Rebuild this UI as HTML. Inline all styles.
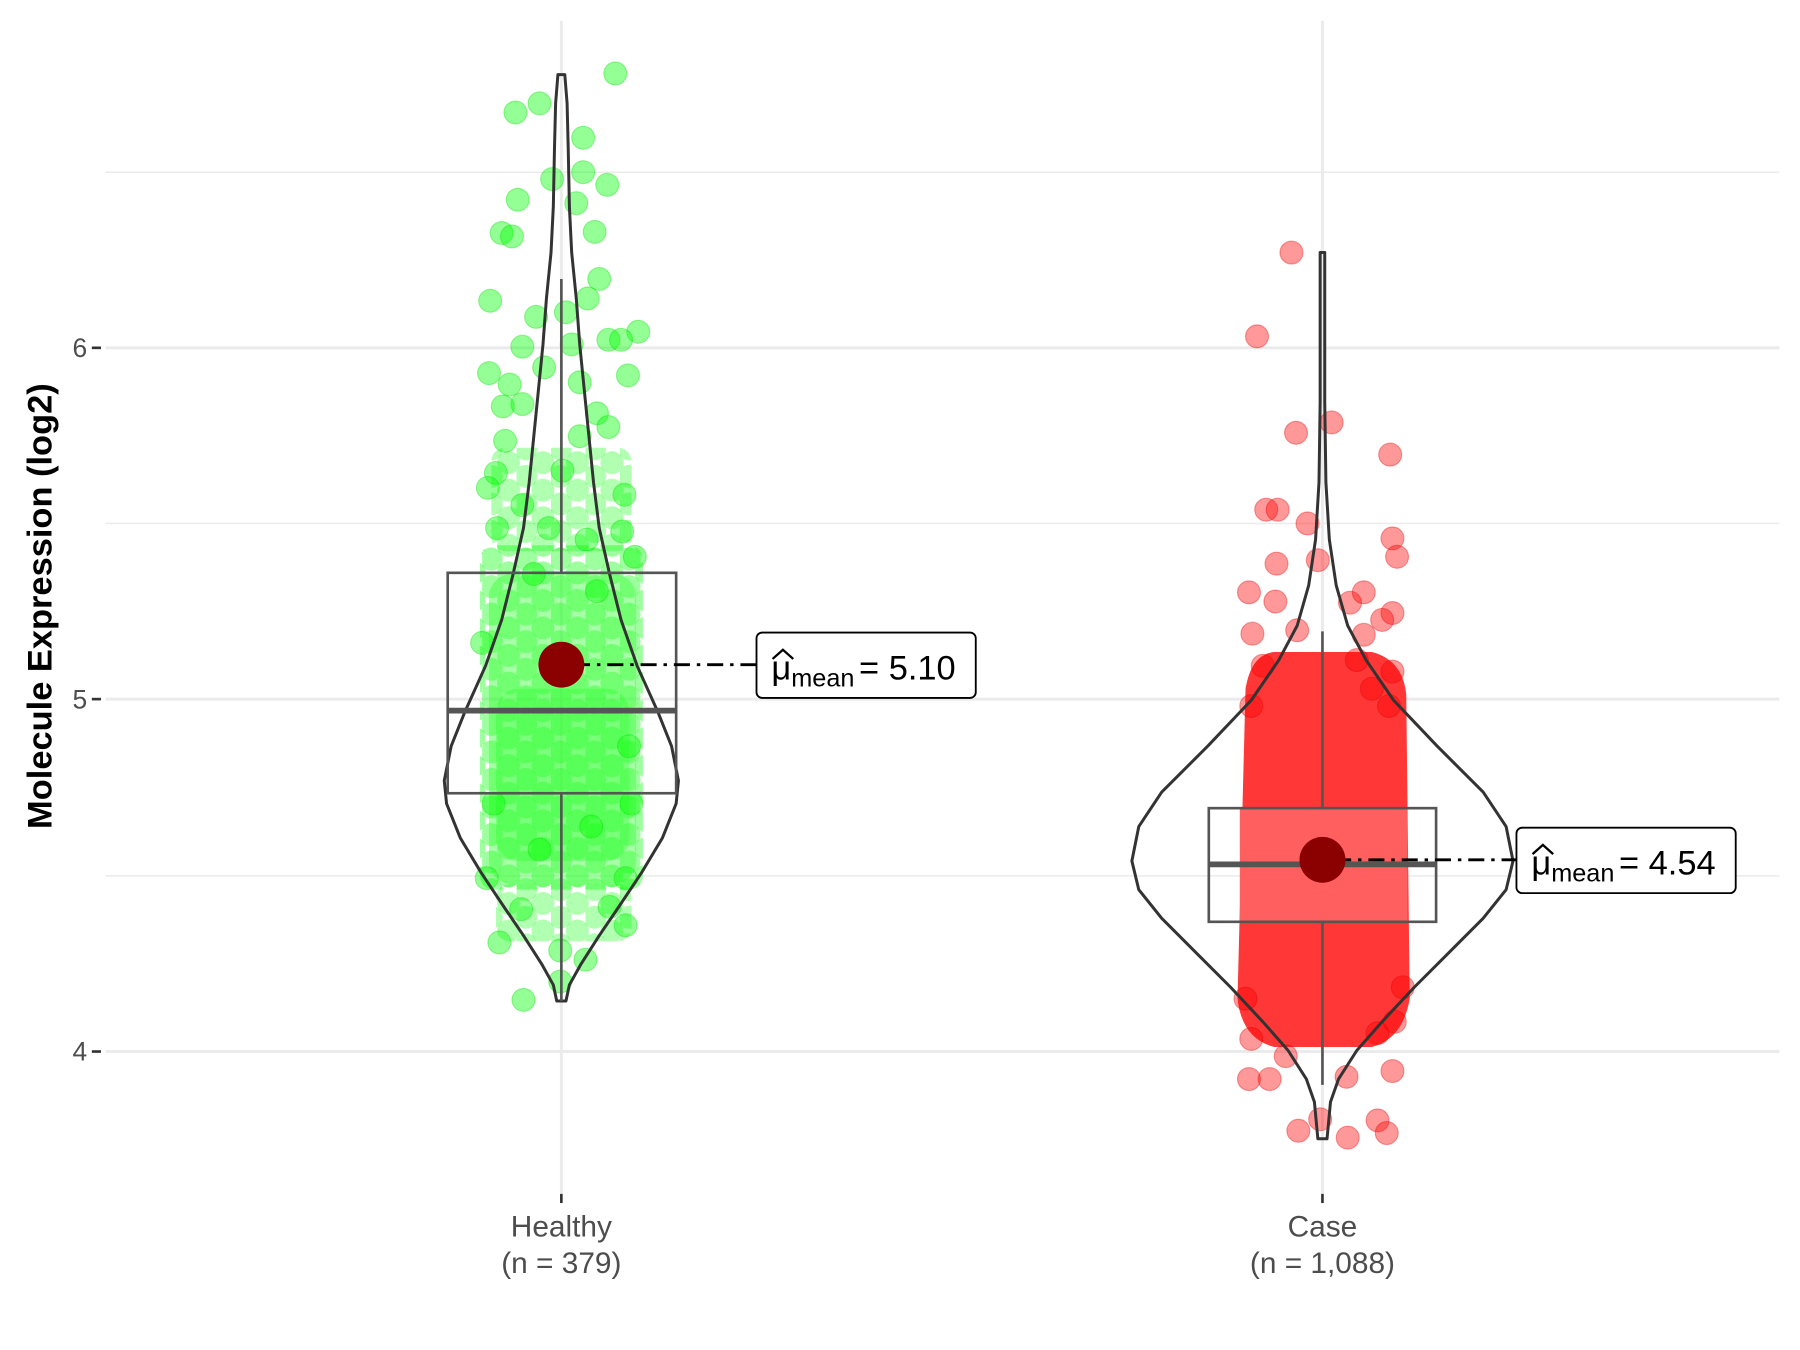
<!DOCTYPE html>
<html><head><meta charset="utf-8"><style>
html,body{margin:0;padding:0;background:#fff;}
svg{display:block;}
text{font-family:"Liberation Sans",Arial,sans-serif;}
</style></head><body>
<svg width="1800" height="1350" viewBox="0 0 1568 1176" preserveAspectRatio="none" xmlns="http://www.w3.org/2000/svg">
<defs>
<pattern id="gp" x="0" y="0" width="30" height="24" patternUnits="userSpaceOnUse">
<circle cx="8" cy="7" r="10" fill="rgba(0,255,0,0.38)"/><circle cx="23" cy="19" r="10" fill="rgba(0,255,0,0.38)"/>
<circle cx="-7" cy="19" r="10" fill="rgba(0,255,0,0.38)"/><circle cx="8" cy="31" r="10" fill="rgba(0,255,0,0.38)"/><circle cx="23" cy="-5" r="10" fill="rgba(0,255,0,0.38)"/>
</pattern>
</defs>
<rect width="1568" height="1176" fill="#fff"/>
<g stroke="#ebebeb" stroke-width="1.3">
<line x1="92" x2="1550" y1="150" y2="150"/><line x1="92" x2="1550" y1="456" y2="456"/><line x1="92" x2="1550" y1="763" y2="763"/>
</g>
<g stroke="#ebebeb" stroke-width="2.6">
<line x1="92" x2="1550" y1="303" y2="303"/><line x1="92" x2="1550" y1="609" y2="609"/><line x1="92" x2="1550" y1="916" y2="916"/>
<line x1="489" x2="489" y1="18" y2="1040"/><line x1="1152" x2="1152" y1="18" y2="1040"/>
</g>
<!-- green dense -->
<rect x="418" y="475" width="142" height="300" rx="12" fill="url(#gp)"/>
<rect x="428" y="390" width="122" height="90" rx="12" fill="url(#gp)" opacity="0.8"/>
<rect x="432" y="770" width="118" height="50" rx="12" fill="url(#gp)" opacity="0.8"/>
<rect x="426" y="500" width="128" height="270" rx="20" fill="rgba(60,255,60,0.45)"/>
<rect x="432" y="600" width="116" height="150" rx="20" fill="rgba(40,255,40,0.35)"/>
<g fill="rgba(0,255,0,0.42)" stroke="rgba(0,220,0,0.35)">
<circle cx="536" cy="64" r="10"/><circle cx="449" cy="98" r="10"/><circle cx="470" cy="90" r="10"/><circle cx="508" cy="120" r="10"/><circle cx="481" cy="156" r="10"/><circle cx="508" cy="150" r="10"/><circle cx="529" cy="161" r="10"/><circle cx="451" cy="174" r="10"/><circle cx="502" cy="177" r="10"/><circle cx="518" cy="202" r="10"/><circle cx="437" cy="203" r="10"/><circle cx="446" cy="206" r="10"/><circle cx="522" cy="243" r="10"/><circle cx="427" cy="262" r="10"/><circle cx="512" cy="260" r="10"/><circle cx="467" cy="276" r="10"/><circle cx="493" cy="272" r="10"/><circle cx="530" cy="296" r="10"/><circle cx="556" cy="289" r="10"/><circle cx="541" cy="296" r="10"/><circle cx="455" cy="302" r="10"/><circle cx="498" cy="300" r="10"/><circle cx="474" cy="320" r="10"/><circle cx="426" cy="325" r="10"/><circle cx="547" cy="327" r="10"/><circle cx="444" cy="335" r="10"/><circle cx="505" cy="333" r="10"/><circle cx="455" cy="352" r="10"/><circle cx="438" cy="354" r="10"/><circle cx="520" cy="360" r="10"/><circle cx="440" cy="384" r="10"/><circle cx="530" cy="372" r="10"/><circle cx="505" cy="380" r="10"/><circle cx="432" cy="412" r="10"/><circle cx="490" cy="410" r="10"/><circle cx="544" cy="431" r="10"/><circle cx="455" cy="440" r="10"/><circle cx="542" cy="463" r="10"/><circle cx="478" cy="460" r="10"/><circle cx="511" cy="470" r="10"/><circle cx="433" cy="460" r="10"/><circle cx="553" cy="485" r="10"/><circle cx="424" cy="765" r="10"/><circle cx="545" cy="765" r="10"/><circle cx="454" cy="792" r="10"/><circle cx="531" cy="790" r="10"/><circle cx="435" cy="821" r="10"/><circle cx="545" cy="806" r="10"/><circle cx="488" cy="828" r="10"/><circle cx="510" cy="836" r="10"/><circle cx="456" cy="871" r="10"/><circle cx="488" cy="855" r="10"/><circle cx="425" cy="425" r="10"/><circle cx="548" cy="650" r="10"/><circle cx="420" cy="560" r="10"/><circle cx="465" cy="500" r="10"/><circle cx="520" cy="515" r="10"/><circle cx="430" cy="700" r="10"/><circle cx="550" cy="700" r="10"/><circle cx="470" cy="740" r="10"/><circle cx="515" cy="720" r="10"/>
</g>
<!-- red dense -->
<path d="M1085 600 Q1090 570 1110 568 L1195 568 Q1222 575 1225 605 L1228 870 Q1222 905 1195 912 L1110 912 Q1082 905 1078 870 Z" fill="rgb(255,55,55)"/>
<rect x="1080" y="704" width="146" height="99" fill="rgb(255,95,95)"/>
<g fill="rgba(255,0,0,0.4)" stroke="rgba(220,0,0,0.35)">
<circle cx="1125" cy="220" r="10"/><circle cx="1095" cy="293" r="10"/><circle cx="1129" cy="377" r="10"/><circle cx="1160" cy="368" r="10"/><circle cx="1211" cy="396" r="10"/><circle cx="1103" cy="444" r="10"/><circle cx="1113" cy="444" r="10"/><circle cx="1139" cy="456" r="10"/><circle cx="1213" cy="469" r="10"/><circle cx="1217" cy="485" r="10"/><circle cx="1112" cy="491" r="10"/><circle cx="1148" cy="488" r="10"/><circle cx="1088" cy="516" r="10"/><circle cx="1111" cy="524" r="10"/><circle cx="1176" cy="525" r="10"/><circle cx="1188" cy="516" r="10"/><circle cx="1213" cy="534" r="10"/><circle cx="1091" cy="552" r="10"/><circle cx="1130" cy="549" r="10"/><circle cx="1188" cy="553" r="10"/><circle cx="1204" cy="540" r="10"/><circle cx="1100" cy="580" r="10"/><circle cx="1182" cy="575" r="10"/><circle cx="1213" cy="585" r="10"/><circle cx="1195" cy="600" r="10"/><circle cx="1090" cy="615" r="10"/><circle cx="1210" cy="615" r="10"/><circle cx="1088" cy="940" r="10"/><circle cx="1106" cy="940" r="10"/><circle cx="1173" cy="938" r="10"/><circle cx="1213" cy="933" r="10"/><circle cx="1131" cy="985" r="10"/><circle cx="1150" cy="975" r="10"/><circle cx="1174" cy="991" r="10"/><circle cx="1200" cy="976" r="10"/><circle cx="1208" cy="987" r="10"/><circle cx="1090" cy="905" r="10"/><circle cx="1200" cy="900" r="10"/><circle cx="1120" cy="920" r="10"/><circle cx="1215" cy="890" r="10"/><circle cx="1085" cy="870" r="10"/><circle cx="1222" cy="860" r="10"/>
</g>
<g fill="none" stroke="#333" stroke-width="2.6" stroke-linejoin="round">
<polygon points="486,65 484,90 483,130 482,180 480,220 476,260 473,300 469,340 465,380 461,420 456,460 447,500 437,540 423,580 405,620 393,650 387,680 389,700 401,730 419,760 439,790 456,815 472,840 482,858 485,872 493,872 496,858 506,840 522,815 539,790 559,760 577,730 589,700 591,680 585,650 573,620 555,580 541,540 531,500 522,460 517,420 513,380 509,340 505,300 502,260 498,220 496,180 495,130 494,90 492,65"/>
<polygon points="1150,220 1150,350 1149,420 1146,470 1140,510 1130,545 1114,575 1090,610 1052,650 1012,690 992,720 986,750 992,775 1012,800 1042,830 1072,860 1100,890 1122,915 1138,940 1145,960 1148,992 1156,992 1159,960 1166,940 1182,915 1204,890 1232,860 1262,830 1292,800 1312,775 1318,750 1312,720 1292,690 1252,650 1214,610 1190,575 1174,545 1164,510 1158,470 1155,420 1154,350 1154,220"/>
</g>
<g stroke="#555" stroke-width="2.3" fill="none">
<line x1="489" x2="489" y1="243" y2="499"/><line x1="489" x2="489" y1="691" y2="872"/>
<rect x="390" y="499" width="199" height="192"/>
<line x1="390" x2="589" y1="619" y2="619" stroke-width="5"/>
<line x1="1152" x2="1152" y1="550" y2="704"/><line x1="1152" x2="1152" y1="803" y2="945"/>
<rect x="1053" y="704" width="198" height="99"/>
<line x1="1053" x2="1251" y1="753" y2="753" stroke-width="5"/>
</g>
<g stroke="#000" stroke-width="2.5" stroke-dasharray="14,6,3,6">
<line x1="500" x2="659" y1="579" y2="579"/><line x1="1163" x2="1321" y1="749" y2="749"/>
</g>
<circle cx="489" cy="579" r="20" fill="#8b0000"/>
<circle cx="1152" cy="749" r="20" fill="#8b0000"/>
<g fill="#fff" stroke="#000" stroke-width="1.6">
<rect x="659" y="551" width="191" height="57" rx="5"/>
<rect x="1321" y="721" width="191" height="57" rx="5"/>
</g>
<g font-size="30" fill="#000">
<text x="672" y="592">μ<tspan font-size="22" dy="6">mean</tspan><tspan dy="-6" dx="4">= 5.10</tspan></text>
<path d="M673 574 L682 566 L691 574" fill="none" stroke="#000" stroke-width="2"/>
<text x="1334" y="762">μ<tspan font-size="22" dy="6">mean</tspan><tspan dy="-6" dx="4">= 4.54</tspan></text>
<path d="M1335 744 L1344 736 L1353 744" fill="none" stroke="#000" stroke-width="2"/>
</g>
<g stroke="#333" stroke-width="2.3">
<line x1="80" x2="88" y1="303" y2="303"/><line x1="80" x2="88" y1="609" y2="609"/><line x1="80" x2="88" y1="916" y2="916"/>
<line x1="489" x2="489" y1="1040" y2="1048"/><line x1="1152" x2="1152" y1="1040" y2="1048"/>
</g>
<g font-size="23" fill="#4d4d4d" text-anchor="end">
<text x="76" y="311">6</text><text x="76" y="617">5</text><text x="76" y="924">4</text>
</g>
<g font-size="26" fill="#4d4d4d" text-anchor="middle">
<text x="489" y="1077">Healthy</text><text x="489" y="1109">(n = 379)</text>
<text x="1152" y="1077">Case</text><text x="1152" y="1109">(n = 1,088)</text>
</g>
<text transform="translate(45,528) rotate(-90)" font-size="30" font-weight="bold" text-anchor="middle" fill="#000">Molecule Expression (log2)</text>
</svg>
</body></html>
